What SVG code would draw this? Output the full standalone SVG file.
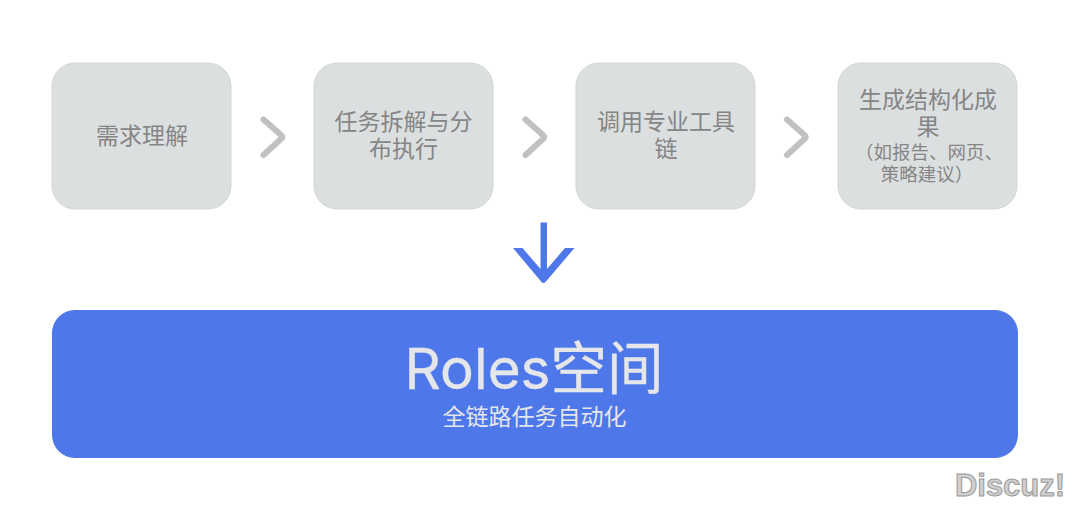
<svg xmlns="http://www.w3.org/2000/svg" width="1080" height="509" viewBox="0 0 1080 509">
<style>
text{font-family:"Inter","Noto Sans CJK SC",sans-serif;text-anchor:middle}
.box{fill:#dcdfe0;stroke:#d3d6d7;stroke-width:1}
.t{font-size:23px;fill:#858585}
.s{font-size:18.500px;fill:#858585}
.chev{fill:none;stroke:#c1c1c1;stroke-width:6;stroke-linecap:round;stroke-linejoin:round}
</style>
<rect width="1080" height="509" fill="#fff"/>
<g id="connectors">
<path class="chev" d="M263.500 119.500L281.500 135.500Q283 137 281.500 138.500L263.500 155"/>
<path class="chev" d="M525.500 119.500L543.500 135.500Q545 137 543.500 138.500L525.500 155"/>
<path class="chev" d="M787 119.500L805 135.500Q806.500 137 805 138.500L787 155"/>
<path fill="#4e78ea" d="M540.500 222.500H547V269L565 248H574.500L545.500 282Q543.500 284 541.500 282L513 248H522.500L540.500 269Z"/>
</g>
<g id="node-1"><rect class="box" x="52" y="63" width="179" height="146" rx="23"/><text class="t" x="142" y="144">需求理解</text></g>
<g id="node-2"><rect class="box" x="314" y="63" width="179" height="146" rx="23"/><text class="t" x="403.500" y="130">任务拆解与分</text><text class="t" x="403.500" y="157">布执行</text></g>
<g id="node-3"><rect class="box" x="576" y="63" width="179" height="146" rx="23"/><text class="t" x="666" y="130">调用专业工具</text><text class="t" x="666" y="157">链</text></g>
<g id="node-4"><rect class="box" x="838" y="63" width="179" height="146" rx="23"/><text class="t" x="928" y="108">生成结构化成</text><text class="t" x="928" y="135">果</text><text class="s" x="929" y="159">（如报告、网页、</text><text class="s" x="927" y="181">策略建议）</text></g>
<g id="roles"><rect x="52" y="310" width="966" height="148" rx="23" fill="#4e78ea"/><text x="534" y="389" font-size="56.500" fill="#e4e6ea" stroke="#e4e6ea" stroke-width="0.400">Roles空间</text><text x="534.500" y="425" font-size="23" fill="#e4e6ea">全链路任务自动化</text></g>
<text x="1010" y="496" font-size="31" font-weight="700" fill="#cfcfcf" stroke="#9a9a9a" stroke-width="1" style="font-family:'Liberation Sans',sans-serif">Discuz!</text>
</svg>
